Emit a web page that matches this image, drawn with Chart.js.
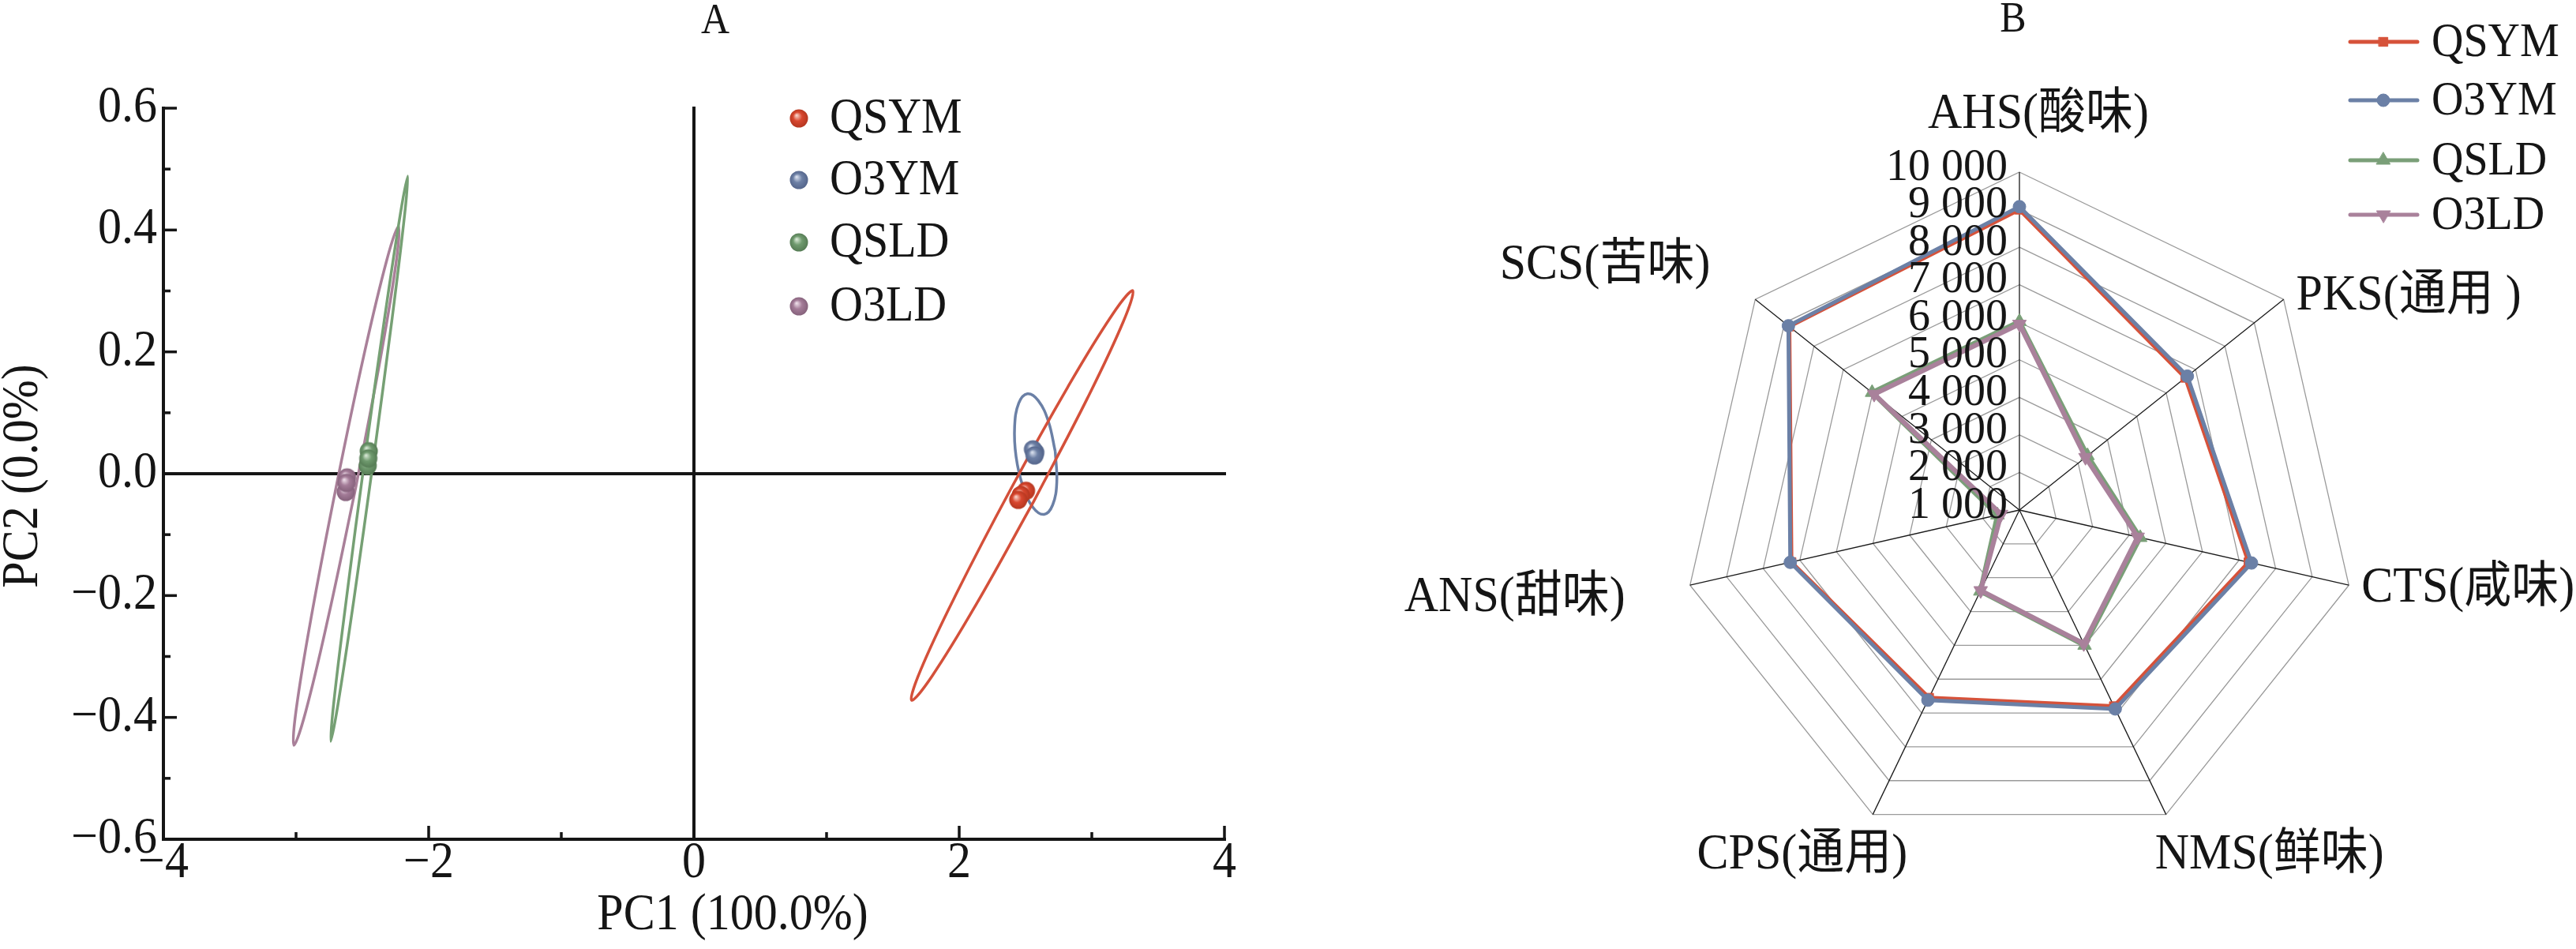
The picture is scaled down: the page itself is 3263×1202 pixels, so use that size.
<!DOCTYPE html>
<html>
<head>
<meta charset="utf-8">
<script src="https://cdn.jsdelivr.net/npm/chart.js@4.4.1/dist/chart.umd.min.js"></script>
<style>
  html, body { margin: 0; padding: 0; background: #fff; }
  #wrap { position: relative; width: 3263px; height: 1202px; }
  canvas { position: absolute; top: 0; }
  #pca { left: 0; }
  #radar { left: 1680px; }
</style>
</head>
<body>
<div id="wrap">
  <canvas id="pca" width="1680" height="1202"></canvas>
  <canvas id="radar" width="1583" height="1202"></canvas>
</div>
<script>
// ---- data ----
const groups = ['QSYM', 'O3YM', 'QSLD', 'O3LD'];
const lineColors = ['#d6523a', '#6b80a6', '#7a9f78', '#a9819b'];

// A: PCA scores (PC1, PC2)
const qsymScores = [{x: 2.504, y: -0.028}, {x: 2.464, y: -0.035}, {x: 2.445, y: -0.043}];
const o3ymScores = [{x: 2.574, y: 0.035}, {x: 2.556, y: 0.040}, {x: 2.568, y: 0.030}];
const qsldScores = [{x: -2.452, y: 0.037}, {x: -2.460, y: 0.013}, {x: -2.455, y: 0.025}];
const o3ldScores = [{x: -2.615, y: -0.006}, {x: -2.625, y: -0.030}, {x: -2.620, y: -0.015}];

// confidence ellipse outlines, points read around each ring
const qsymRing = [
  {x: 2.561, y: -0.0459}, {x: 2.133, y: -0.2127}, {x: 1.796, y: -0.3320}, {x: 1.641, y: -0.3720},
  {x: 1.710, y: -0.3218}, {x: 1.983, y: -0.1951}, {x: 2.388, y: -0.0256}, {x: 2.816, y: 0.1412},
  {x: 3.153, y: 0.2605}, {x: 3.308, y: 0.3005}, {x: 3.239, y: 0.2504}, {x: 2.966, y: 0.1236},
  {x: 2.561, y: -0.0459}
];
const o3ymRing = [
  {x: 2.724, y: 0.0367}, {x: 2.736, y: -0.0134}, {x: 2.705, y: -0.0512}, {x: 2.640, y: -0.0667},
  {x: 2.558, y: -0.0557}, {x: 2.481, y: -0.0211}, {x: 2.429, y: 0.0278}, {x: 2.418, y: 0.0778},
  {x: 2.449, y: 0.1157}, {x: 2.514, y: 0.1312}, {x: 2.596, y: 0.1201}, {x: 2.673, y: 0.0856},
  {x: 2.724, y: 0.0367}
];
const qsldRing = [
  {x: -2.416, y: 0.0237}, {x: -2.565, y: -0.2082}, {x: -2.683, y: -0.3776}, {x: -2.738, y: -0.4393},
  {x: -2.716, y: -0.3767}, {x: -2.621, y: -0.2065}, {x: -2.481, y: 0.0256}, {x: -2.331, y: 0.2574},
  {x: -2.213, y: 0.4269}, {x: -2.158, y: 0.4886}, {x: -2.181, y: 0.4259}, {x: -2.275, y: 0.2558},
  {x: -2.416, y: 0.0237}
];
const o3ldRing = [
  {x: -2.550, y: -0.0230}, {x: -2.757, y: -0.2355}, {x: -2.927, y: -0.3903}, {x: -3.016, y: -0.4458},
  {x: -2.999, y: -0.3871}, {x: -2.881, y: -0.2301}, {x: -2.693, y: -0.0167}, {x: -2.487, y: 0.1958},
  {x: -2.316, y: 0.3506}, {x: -2.228, y: 0.4061}, {x: -2.245, y: 0.3475}, {x: -2.363, y: 0.1904},
  {x: -2.550, y: -0.0230}
];

const pcaXMajor = [-4, -2, 0, 2, 4];
const pcaXMinor = [-3, -1, 1, 3];
const pcaXLabels = ['\u22124', '\u22122', '0', '2', '4'];
const pcaYMajor = [0.6, 0.4, 0.2, 0, -0.2, -0.4, -0.6];
const pcaYMinor = [0.5, 0.3, 0.1, -0.1, -0.3, -0.5];
const pcaYLabels = ['0.6', '0.4', '0.2', '0.0', '\u22120.2', '\u22120.4', '\u22120.6'];

// B: electronic tongue radar
const tasteAxes = ['AHS(酸味)', 'PKS(通用 )', 'CTS(咸味)', 'NMS(鲜味)', 'CPS(通用)', 'ANS(甜味)', 'SCS(苦味)'];
const qsymTaste = [9000, 6650, 7260, 6800, 6550, 7230, 8840];
const o3ymTaste = [9080, 6720, 7340, 6880, 6620, 7260, 8870];
const qsldTaste = [6020, 3320, 4300, 5000, 3400, 1600, 6020];
const o3ldTaste = [5950, 3250, 4230, 4950, 3380, 1500, 5950];
const tasteTicks = [1000, 2000, 3000, 4000, 5000, 6000, 7000, 8000, 9000, 10000];
const tasteTickLabels = ['1 000', '2 000', '3 000', '4 000', '5 000', '6 000', '7 000', '8 000', '9 000', '10 000'];

// ---- helpers ----
const SERIF = '"Liberation Serif", "Times New Roman", "Noto Sans CJK SC", serif';
const INK = '#151515';

function sphere(base, light, dark) {
  const c = document.createElement('canvas');
  c.width = 26; c.height = 26;
  const g = c.getContext('2d');
  const grad = g.createRadialGradient(10, 9, 0.5, 13, 13, 12);
  grad.addColorStop(0, light);
  grad.addColorStop(0.45, base);
  grad.addColorStop(1, dark);
  g.fillStyle = grad;
  g.beginPath(); g.arc(13, 13, 11.5, 0, Math.PI * 2); g.fill();
  return c;
}
const balls = [
  sphere('#d9472f', '#f7d2c8', '#b3361f'),
  sphere('#6d80a5', '#d9e0ee', '#53648a'),
  sphere('#6f9a6e', '#d7e8d5', '#547a53'),
  sphere('#a47c98', '#ecdce7', '#84607a')
];

function seg(ctx, x1, y1, x2, y2) {
  ctx.beginPath(); ctx.moveTo(x1, y1); ctx.lineTo(x2, y2); ctx.stroke();
}

// text slightly taller than wide, like the printed figure
function tallText(ctx, str, x, y, stretch) {
  ctx.save();
  ctx.translate(x, y);
  ctx.scale(1, stretch);
  ctx.fillText(str, 0, 0);
  ctx.restore();
}

// ---- A: PCA ----
const pcaDecor = {
  id: 'pcaDecor',
  beforeDatasetsDraw(chart) {
    const {ctx, scales: {x, y}} = chart;
    const left = x.getPixelForValue(-4), right = x.getPixelForValue(4);
    const top = y.getPixelForValue(0.6), bottom = y.getPixelForValue(-0.6);
    ctx.save();
    ctx.strokeStyle = INK;
    ctx.lineWidth = 4;
    ctx.lineCap = 'square';
    seg(ctx, x.getPixelForValue(0), top, x.getPixelForValue(0), bottom);
    seg(ctx, left, y.getPixelForValue(0), right, y.getPixelForValue(0));
    seg(ctx, left, top, left, bottom);
    seg(ctx, left, bottom, right, bottom);
    ctx.lineCap = 'butt';
    ctx.lineWidth = 3.5;
    pcaXMajor.forEach(v => seg(ctx, x.getPixelForValue(v), bottom, x.getPixelForValue(v), bottom - 17));
    pcaXMinor.forEach(v => seg(ctx, x.getPixelForValue(v), bottom, x.getPixelForValue(v), bottom - 9));
    pcaYMajor.forEach(v => seg(ctx, left, y.getPixelForValue(v), left + 17, y.getPixelForValue(v)));
    pcaYMinor.forEach(v => seg(ctx, left, y.getPixelForValue(v), left + 9, y.getPixelForValue(v)));
    ctx.restore();
  },
  afterDraw(chart) {
    const {ctx, scales: {x, y}} = chart;
    const left = x.getPixelForValue(-4), bottom = y.getPixelForValue(-0.6);
    const k = 1.08;
    ctx.save();
    ctx.fillStyle = INK;
    ctx.font = '60px ' + SERIF;
    ctx.textAlign = 'center'; ctx.textBaseline = 'middle';
    pcaXMajor.forEach((v, i) => tallText(ctx, pcaXLabels[i], x.getPixelForValue(v), bottom + 31, k));
    ctx.textAlign = 'right';
    pcaYMajor.forEach((v, i) => tallText(ctx, pcaYLabels[i], left - 8, y.getPixelForValue(v), k));
    // axis titles
    ctx.textAlign = 'center';
    tallText(ctx, 'PC1 (100.0%)', 928, 1160, k);
    ctx.save();
    ctx.translate(30, 603);
    ctx.rotate(-Math.PI / 2);
    ctx.scale(1, k);
    ctx.fillText('PC2 (0.0%)', 0, 0);
    ctx.restore();
    // panel letter
    ctx.font = '50px ' + SERIF;
    tallText(ctx, 'A', 906, 28, 1.1);
    // legend
    const rows = [150, 228, 307, 388];
    ctx.font = '58px ' + SERIF;
    ctx.textAlign = 'left';
    groups.forEach((g, i) => {
      ctx.drawImage(balls[i], 1012 - 13, rows[i] - 13);
      tallText(ctx, g, 1051, rows[i] + 2, k);
    });
    ctx.restore();
  }
};

const ringSet = (data, color, order) => ({
  data, showLine: true, borderColor: color, borderWidth: 3.5, pointRadius: 0,
  tension: 0.4, fill: false, order
});
const ballSet = (data, i) => ({
  data, pointStyle: balls[i], pointRadius: 12, showLine: false, order: 0
});

new Chart(document.getElementById('pca'), {
  type: 'scatter',
  data: {
    datasets: [
      ringSet(qsymRing, '#d4503a', 1),
      ringSet(o3ymRing, '#6b80a6', 2),
      ringSet(qsldRing, '#76a074', 1),
      ringSet(o3ldRing, '#a98099', 2),
      ballSet(qsymScores, 0),
      ballSet(o3ymScores, 1),
      ballSet(qsldScores, 2),
      ballSet(o3ldScores, 3)
    ]
  },
  options: {
    responsive: false,
    animation: false,
    layout: { padding: { left: 207, top: 137, right: 129, bottom: 139 } },
    plugins: { legend: { display: false }, tooltip: { enabled: false } },
    scales: {
      x: { type: 'linear', min: -4, max: 4, display: false },
      y: { type: 'linear', min: -0.6, max: 0.6, display: false }
    }
  },
  plugins: [pcaDecor]
});

// ---- B: radar ----
const labelPlace = [
  {dx: 24, dy: -73, align: 'center'},
  {dx: 16, dy: -4, align: 'left'},
  {dx: 16, dy: 4, align: 'left'},
  {dx: -14, dy: 52, align: 'left'},
  {dx: 44, dy: 52, align: 'right'},
  {dx: -82, dy: 16, align: 'right'},
  {dx: -57, dy: -43, align: 'right'}
];
const markerStyles = ['rect', 'circle', 'triangle', 'triangle'];
const markerSizes = [8, 8, 10, 10];
const markerRot = [0, 0, 0, 180];
const lineWidths = [5, 5, 6, 6];

const radarDecor = {
  id: 'radarDecor',
  afterDraw(chart) {
    const {ctx} = chart;
    const r = chart.scales.r;
    ctx.save();
    ctx.fillStyle = INK;
    // value labels along the first axis
    ctx.font = '56px ' + SERIF;
    ctx.textAlign = 'right'; ctx.textBaseline = 'middle';
    tasteTicks.forEach((v, i) => {
      ctx.fillText(tasteTickLabels[i], r.xCenter - 15, r.yCenter - r.getDistanceFromCenterForValue(v) - 5);
    });
    // axis names
    ctx.font = '60px ' + SERIF;
    tasteAxes.forEach((name, i) => {
      const p = r.getPointPosition(i, r.drawingArea);
      ctx.textAlign = labelPlace[i].align;
      tallText(ctx, name, p.x + labelPlace[i].dx, p.y + labelPlace[i].dy, 1.05);
    });
    // panel letter
    ctx.font = '50px ' + SERIF;
    ctx.textAlign = 'center';
    tallText(ctx, 'B', 870, 26, 1.1);
    // legend
    const rows = [53, 127, 203, 272];
    ctx.font = '56px ' + SERIF;
    groups.forEach((g, i) => {
      ctx.strokeStyle = lineColors[i];
      ctx.lineWidth = 5;
      ctx.lineCap = 'round';
      seg(ctx, 1297, rows[i], 1382, rows[i]);
      ctx.fillStyle = lineColors[i];
      ctx.lineWidth = 1;
      Chart.helpers.drawPoint(ctx, {
        pointStyle: markerStyles[i], radius: markerSizes[i], rotation: markerRot[i], borderWidth: 1
      }, 1339, rows[i]);
      ctx.fillStyle = INK;
      ctx.textAlign = 'left';
      tallText(ctx, g, 1400, rows[i] + 2, 1.08);
    });
    ctx.restore();
  }
};

const tasteSet = (label, data, i, order) => ({
  label, data,
  borderColor: lineColors[i], backgroundColor: lineColors[i],
  borderWidth: lineWidths[i], fill: false,
  pointStyle: markerStyles[i], pointRadius: markerSizes[i], pointRotation: markerRot[i],
  pointBorderWidth: 1, order
});

new Chart(document.getElementById('radar'), {
  type: 'radar',
  data: {
    labels: tasteAxes,
    datasets: [
      tasteSet(groups[0], qsymTaste, 0, 3),
      tasteSet(groups[1], o3ymTaste, 1, 2),
      tasteSet(groups[2], qsldTaste, 2, 1),
      tasteSet(groups[3], o3ldTaste, 3, 0)
    ]
  },
  options: {
    responsive: false,
    animation: false,
    layout: { padding: { left: 450, top: 218, right: 277, bottom: 128 } },
    plugins: { legend: { display: false }, tooltip: { enabled: false } },
    elements: { line: { tension: 0 } },
    scales: {
      r: {
        min: 1000, max: 10000,
        ticks: { display: false, stepSize: 1000 },
        pointLabels: { display: false },
        grid: { color: '#9a9a9a', lineWidth: 1.3 },
        angleLines: { color: '#1a1a1a', lineWidth: 1.3 }
      }
    }
  },
  plugins: [radarDecor]
});
</script>
</body>
</html>
